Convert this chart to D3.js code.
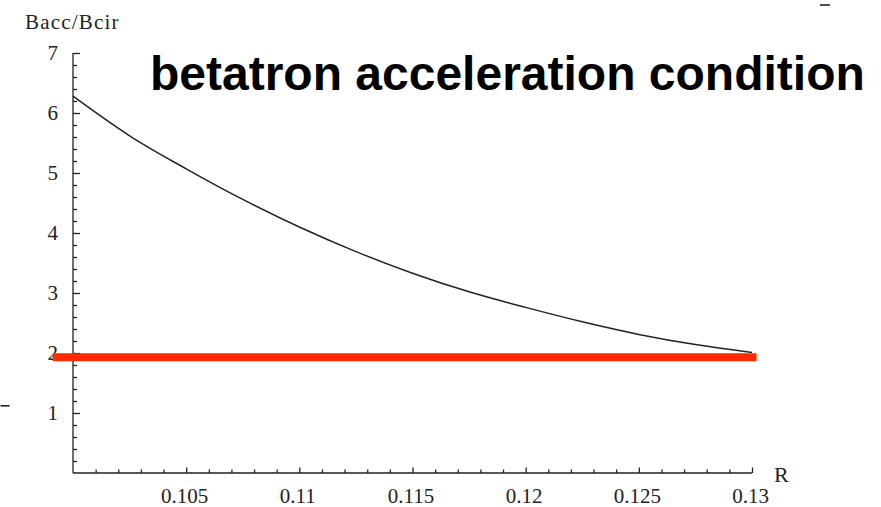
<!DOCTYPE html>
<html><head><meta charset="utf-8">
<script src="https://cdn.jsdelivr.net/npm/d3@7"></script>
<style>body{margin:0;background:#fff}svg{display:block}</style>
</head><body>
<script>
// Data
const radius = [0.1, 0.1025, 0.105, 0.1075, 0.11, 0.1125, 0.115, 0.1175, 0.12, 0.1225, 0.125, 0.1275, 0.13];
const ratio  = [6.28, 5.62, 5.07, 4.56, 4.1, 3.69, 3.33, 3.02, 2.76, 2.52, 2.31, 2.14, 2.01];
const conditionR = [0.0991, 0.1302];
const conditionV = [1.93, 1.93];
const xTickLabels = ["0.105", "0.11", "0.115", "0.12", "0.125", "0.13"];
const yTickLabels = ["1", "2", "3", "4", "5", "6", "7"];
const titleText = "betatron acceleration condition";
const yLabel = "Bacc/Bcir";
const xLabel = "R";
// stray marks in the picture (data coords)
const strayMarks = [{r: 0.0968, v: 1.12, len: 9}, {r: 0.1330, v: 7.8, len: 10}];

const W = 881, H = 507;
const svg = d3.select("body").append("svg").attr("width", W).attr("height", H);
const x = d3.scaleLinear().domain([0.1, 0.13]).range([73, 752]);
const y = d3.scaleLinear().domain([0, 7]).range([473, 53]);

const serif = "'Liberation Serif','Times New Roman',serif";
const axisColor = "#222";

// X axis: minor ticks
const xMinor = d3.range(101, 130).map(d => d / 1000).filter(d => Math.round(d * 1000) % 5 !== 0);
const xMajor = xTickLabels.map(Number);
const gx = svg.append("g").attr("transform", `translate(0,${y(0)})`);
gx.call(d3.axisBottom(x).tickValues(xMinor).tickSize(-3.5).tickFormat("").tickSizeOuter(0));
gx.call(g => g.select(".domain").remove());
const gx2 = svg.append("g").attr("transform", `translate(0,${y(0)})`);
gx2.call(d3.axisBottom(x).tickValues(xMajor).tickSize(-5.5).tickSizeOuter(0).tickPadding(15)
  .tickFormat((d, i) => xTickLabels[i]));
svg.selectAll("g line, g path").attr("stroke", axisColor).attr("stroke-width", 1.3);
gx2.selectAll("text").attr("font-family", serif).attr("font-size", 21).attr("fill", "#222").attr("dx", -2);
gx2.select(".domain").attr("d", `M${x(0.1)},0H${x(0.13)}`).attr("stroke", axisColor).attr("stroke-width", 1.4);

// Y axis
const yMinor = d3.range(1, 35).map(d => d / 5).filter(d => Math.abs(d - Math.round(d)) > 1e-6);
const yMajor = yTickLabels.map(Number);
const gy = svg.append("g").attr("transform", `translate(${x(0.1)},0)`);
gy.call(d3.axisLeft(y).tickValues(yMinor).tickSize(-4).tickFormat("").tickSizeOuter(0));
gy.call(g => g.select(".domain").remove());
const gy2 = svg.append("g").attr("transform", `translate(${x(0.1)},0)`);
gy2.call(d3.axisLeft(y).tickValues(yMajor).tickSize(-7).tickSizeOuter(0).tickPadding(15)
  .tickFormat((d, i) => yTickLabels[i]));
gy2.select(".domain").attr("d", `M0,${y(0)}V${y(7)}`);
svg.selectAll("g line, g path").attr("stroke", axisColor).attr("stroke-width", 1.3);
gy2.selectAll("text").attr("font-family", serif).attr("font-size", 21).attr("fill", "#222");

// Curve
const pts = radius.map((r, i) => [r, ratio[i]]);
svg.append("path")
  .attr("d", d3.line().x(d => x(d[0])).y(d => y(d[1])).curve(d3.curveMonotoneX)(pts))
  .attr("fill", "none").attr("stroke", "#222").attr("stroke-width", 1.5);

// Red condition line
svg.append("path")
  .attr("d", d3.line().x(d => x(d[0])).y(d => y(d[1]))(conditionR.map((r, i) => [r, conditionV[i]])))
  .attr("fill", "none").attr("stroke", "#ff2a00").attr("stroke-width", 8);

// Labels
svg.append("text").attr("x", 25).attr("y", 29).attr("font-family", serif).attr("font-size", 21)
  .attr("letter-spacing", 1.2).attr("fill", "#222").text(yLabel);
svg.append("text").attr("x", x(0.13) + 22).attr("y", y(0) + 9).attr("font-family", serif).attr("font-size", 22)
  .attr("fill", "#222").text(xLabel);
svg.append("text").attr("x", 150).attr("y", 90)
  .attr("font-family", "'Liberation Sans',Arial,Helvetica,sans-serif").attr("font-weight", "bold")
  .attr("font-size", 48).attr("fill", "#000").text(titleText);

// stray marks
svg.selectAll("line.stray").data(strayMarks).enter().append("line").attr("class", "stray")
  .attr("x1", d => x(d.r)).attr("x2", d => x(d.r) + d.len)
  .attr("y1", d => y(d.v)).attr("y2", d => y(d.v))
  .attr("stroke", "#111").attr("stroke-width", 1.5);
</script>
</body></html>
